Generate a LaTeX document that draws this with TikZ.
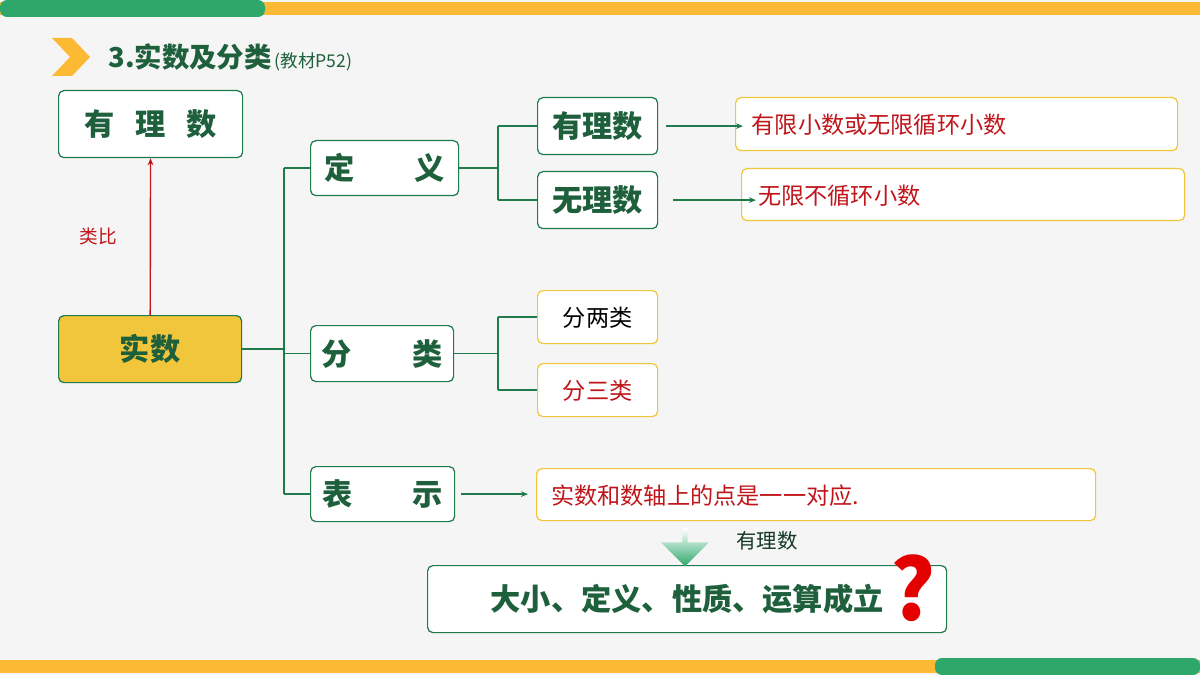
\documentclass[tikz,border=0pt]{standalone}
\usepackage{fontspec}
\newfontfamily\cjk{Noto Sans CJK SC}
\usetikzlibrary{positioning,arrows.meta,shapes.arrows}
\definecolor{eGreen}{HTML}{1F7A4C}
\definecolor{eDark}{HTML}{1E5F3C}
\definecolor{eRed}{HTML}{C0161B}
\definecolor{eGold}{HTML}{F2C63A}
\definecolor{eOrange}{HTML}{FBB934}
\definecolor{eBar}{HTML}{2EA86A}
\tikzset{gbox/.style={draw=eGreen, line width=0.35pt, rounded corners=1.5pt, fill=white, font=\cjk\bfseries\fontsize{8.6}{8.6}\selectfont, text=eDark, anchor=north west, inner sep=1pt}}
\tikzset{ybox/.style={draw=eGold, line width=0.35pt, rounded corners=1.5pt, fill=white, font=\cjk\fontsize{6.6}{6.6}\selectfont, text=eRed, anchor=north west, inner sep=1pt, text depth=0pt}}
\tikzset{g/.style={draw, line width=0.4pt, eGreen, -{Stealth[length=2pt, width=1.6pt]}}}
\tikzset{gg/.style={draw, line width=0.45pt, eGreen}}
\begin{document}
\begin{tikzpicture}[x=0.1mm, y=-0.1mm]
            \fill[white!96!black] (0,0) rectangle (1200,675);
            \useasboundingbox (0,0) rectangle (1200,675);
            \fill[eOrange] (0,2) rectangle (1200,15);
            \fill[eBar, rounded corners=2pt] (0,0) rectangle (265,17);
            \fill[eOrange] (0,660) rectangle (1200,673);
            \fill[eBar, rounded corners=2pt] (935,658) rectangle (1200,675);
            %%
            \fill[eOrange] (52,38) -- (72,38) -- (90,57) -- (72,76) -- (52,76) -- (70,57) -- cycle;
            \node (title) at (96,57) [anchor=west, text=eDark, font=\cjk\bfseries\fontsize{7.8}{7.8}\selectfont]
                {\textit{3.}实数及分类{\mdseries\fontsize{5}{5}\selectfont\,(教材P52)}};
            %%
            \node (rat) at (58,90) [gbox, minimum width=18.4mm, minimum height=6.7mm] {有\ \ \ 理\ \ \ 数};
            \node (real) at (58,315) [gbox, fill=eGold, minimum width=18.3mm, minimum height=6.7mm] {实数};
            \node (def) at (310,140) [gbox, minimum width=14.8mm, minimum height=5.5mm] {定\qquad 义};
            \node (cls) at (310,325) [gbox, minimum width=14.3mm, minimum height=5.6mm] {分\qquad 类};
            \node (rep) at (310,466) [gbox, minimum width=14.4mm, minimum height=5.5mm] {表\qquad 示};
            \node (q) at (537,97) [gbox, minimum width=12mm, minimum height=5.7mm] {有理数};
            \node (irr) at (537,171) [gbox, minimum width=12mm, minimum height=5.7mm] {无理数};
            \node (qd) at (735,97) [ybox, minimum width=44.2mm, minimum height=5.3mm, text width=41mm] {有限小数或无限循环小数};
            \node (id) at (741,168) [ybox, minimum width=44.3mm, minimum height=5.2mm, text width=41mm] {无限不循环小数};
            \node (two) at (537,290) [ybox, text=black, minimum width=12mm, minimum height=5.3mm] {分两类};
            \node (three) at (537,363) [ybox, minimum width=12mm, minimum height=5.3mm] {分三类};
            \node (rd) at (536,468) [ybox, minimum width=55.9mm, minimum height=5.2mm, text width=53mm] {实数和数轴上的点是一一对应.};
            \node (res) at (427,565) [gbox, minimum width=51.9mm, minimum height=6.7mm, text width=49mm, align=center] {大小、定义、性质、运算成立};
            \node (qm) at (913,588) [text=red!90!black, font=\cjk\bfseries\fontsize{24}{24}\selectfont] {?};
            %%
            \draw [draw=eRed, line width=0.4pt, -{Stealth[length=2pt, width=1.6pt]}] (real) -- (rat)
                node [midway, left=6pt, text=eRed, font=\cjk\fontsize{5.3}{5.3}\selectfont] {类比};
            \path[gg] (real.east) -- ++(42,0) coordinate (t0);
            \path[gg] (t0 |- def.west) -- (t0 |- rep.west);
            \path[gg] (t0 |- def.west) -- (def.west);
            \path[gg] (t0 |- cls.west) -- (cls.west);
            \path[gg] (t0 |- rep.west) -- (rep.west);
            %%
            \path[gg] (def.east) -- ++(39,0) coordinate (t1);
            \path[gg] (t1 |- q.west) -- (t1 |- irr.west);
            \path[gg] (t1 |- q.west) -- (q.west);
            \path[gg] (t1 |- irr.west) -- (irr.west);
            \path[gg] (cls.east) -- ++(44,0) coordinate (t2);
            \path[gg] (t2 |- two.west) -- (t2 |- three.west);
            \path[gg] (t2 |- two.west) -- (two.west);
            \path[gg] (t2 |- three.west) -- (three.west);
            %%
            \path[g] ([xshift=0.8mm]q.east) -- ([xshift=0.8mm]q.east -| qd.west);
            \path[g] ([xshift=1.5mm]irr.east) -- ([xshift=1.5mm]irr.east -| id.west);
            \path[g] ([xshift=0.6mm]rep.east) -- ([xshift=-0.8mm]rep.east -| rd.west);
            %%
            \node (down) at (685,546) [single arrow, shape border rotate=270, minimum height=3.8mm, minimum width=4.8mm,
                single arrow head extend=1.4mm, single arrow head indent=0pt, inner sep=0.3pt,
                top color=white, bottom color=eBar, draw=none] {};
            \node at (767,541) [text=eDark!60!black, font=\cjk\fontsize{5.8}{5.8}\selectfont] {有理数};
\end{tikzpicture}
\end{document}
